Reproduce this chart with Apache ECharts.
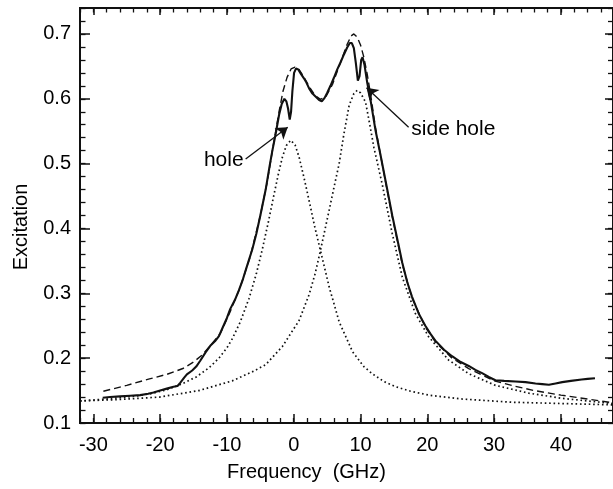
<!DOCTYPE html>
<html><head><meta charset="utf-8">
<script src="https://cdn.jsdelivr.net/npm/echarts@6/dist/echarts.min.js"></script>
<style>html,body{margin:0;padding:0;background:#fff}#c{width:613px;height:489px}</style>
</head><body><div id="c"></div>
<script>
// ---- tick values ----
const xMajorTicks = [-30, -20, -10, 0, 10, 20, 30, 40];
const yMajorTicks = [0.1, 0.2, 0.3, 0.4, 0.5, 0.6, 0.7];

// ---- measured excitation spectrum (solid) ----
const measured = [
  [-28.6,0.139],[-27.5,0.140],[-26,0.141],[-24.5,0.142],[-23,0.143],[-21.8,0.145],[-21,0.147],
  [-20,0.150],[-19,0.153],[-18,0.156],[-17.4,0.157],[-17,0.162],[-16.4,0.170],[-16,0.175],
  [-15.2,0.181],[-14.6,0.187],[-14,0.196],[-13.2,0.209],[-12.5,0.219],[-11.8,0.226],[-11.2,0.234],
  [-10.6,0.248],[-10,0.262],[-9.5,0.276],[-8.8,0.290],[-8.2,0.305],[-7.6,0.322],[-7,0.342],
  [-6.2,0.368],[-5.6,0.392],[-5,0.420],[-4.2,0.460],[-3.6,0.497],[-3.2,0.520],[-2.7,0.546],
  [-2.2,0.575],[-1.8,0.592],[-1.4,0.600],[-1.1,0.596],[-0.85,0.585],[-0.6,0.568],[-0.4,0.580],
  [-0.2,0.612],[0.05,0.640],[0.35,0.647],[0.7,0.645],[1.1,0.638],[1.5,0.632],[1.9,0.625],
  [2.3,0.616],[2.8,0.608],[3.3,0.603],[3.8,0.598],[4.2,0.596],[4.6,0.601],[5.0,0.609],
  [5.5,0.620],[6.0,0.632],[6.5,0.645],[7.0,0.656],[7.5,0.668],[8.0,0.679],[8.4,0.686],
  [8.7,0.686],[9.0,0.678],[9.3,0.655],[9.6,0.628],[9.85,0.635],[10.1,0.660],[10.3,0.664],
  [10.6,0.652],[11.0,0.625],[11.5,0.598],[12.25,0.551],[13,0.513],[14,0.460],[14.75,0.420],
  [15.7,0.374],[16.25,0.347],[17,0.317],[17.7,0.295],[18.7,0.269],[19.7,0.250],[20.5,0.237],
  [21.2,0.227],[22.5,0.213],[23.7,0.203],[25,0.194],[26.2,0.188],[27.2,0.182],[28.2,0.177],
  [29.2,0.171],[30.2,0.166],[31.5,0.165],[33.2,0.164],[34.7,0.163],[36.2,0.161],[37.2,0.160],
  [38.2,0.159],[39.2,0.161],[40.2,0.163],[41.5,0.165],[43.1,0.167],[44,0.168],[45.1,0.169]
];

// ---- total fit (dashed) ----
const fit = [
  [-28.5,0.149],[-25,0.158],[-21.6,0.168],[-19,0.175],[-16.6,0.184],[-15,0.194],[-13.7,0.205],
  [-12.5,0.219],[-11,0.238],[-9.5,0.272],[-8,0.310],[-6.5,0.357],[-5,0.420],[-4,0.470],
  [-3,0.532],[-2.2,0.580],[-1.6,0.612],[-1,0.633],[-0.4,0.646],[0.2,0.649],[0.8,0.645],
  [1.5,0.634],[2.3,0.619],[3.2,0.605],[4.0,0.599],[4.8,0.603],[5.8,0.622],[7.0,0.656],
  [8.0,0.684],[8.6,0.697],[9.0,0.700],[9.5,0.695],[10,0.683],[10.5,0.664],[11,0.638],
  [11.5,0.607],[12.25,0.555],[13,0.513],[14,0.458],[14.75,0.418],[15.7,0.372],[16.25,0.345],
  [17.7,0.293],[19.7,0.248],[21.2,0.225],[23.7,0.200],[26.2,0.184],[28.2,0.174],[30,0.165],
  [33,0.157],[36,0.150],[40,0.143],[44,0.137],[47.8,0.131]
];

// ---- component peak A (dotted, ~0 GHz) ----
const peakA = [
  [-32,0.134],[-28,0.137],[-24.1,0.141],[-21.5,0.145],[-19.1,0.151],[-16.8,0.160],[-14.6,0.171],
  [-12.7,0.185],[-11.2,0.200],[-10,0.216],[-9.2,0.230],[-8,0.256],[-6.7,0.292],[-5.6,0.330],
  [-4.7,0.368],[-3.8,0.410],[-3.0,0.450],[-2.3,0.484],[-1.7,0.510],[-1.1,0.528],[-0.45,0.536],
  [0.2,0.529],[0.8,0.510],[1.5,0.480],[2.3,0.443],[3.2,0.400],[4.0,0.366],[5.3,0.310],
  [6.8,0.256],[8.8,0.210],[10.5,0.187],[11.75,0.176],[13.5,0.164],[15.25,0.156],[17.5,0.149],
  [20.2,0.143],[25.2,0.137],[32.7,0.132],[40.2,0.130],[47.8,0.128]
];

// ---- component peak B (dotted, ~10 GHz) ----
const peakB = [
  [-32,0.134],[-26.6,0.136],[-20.1,0.140],[-14.2,0.150],[-9.2,0.165],[-6,0.180],[-4.2,0.190],
  [-1.7,0.218],[0.8,0.258],[2.3,0.298],[3.2,0.330],[4.0,0.366],[5.3,0.428],[6.0,0.462],
  [6.8,0.500],[7.5,0.545],[8.3,0.590],[9.0,0.608],[9.5,0.613],[10.0,0.609],[10.75,0.595],
  [11.3,0.565],[12.0,0.525],[13.25,0.468],[14.75,0.392],[16.25,0.325],[18.2,0.269],[20.2,0.233],
  [23.2,0.197],[26.2,0.176],[30.2,0.158],[35.2,0.146],[40.2,0.138],[47.8,0.130]
];

// ---- annotations (data coordinates) ----
const annotations = [
  { text: 'hole', at: [-7.5, 0.506], from: [-7.2, 0.507], to: [-0.9, 0.556], side: 'left' },
  { text: 'side hole', at: [17.6, 0.553], from: [17.2, 0.556], to: [10.9, 0.617], side: 'right' }
];

const XMIN = -32, XMAX = 47.8, YMIN = 0.1, YMAX = 0.74;
const FONT = '"Liberation Sans", Arial, Helvetica, sans-serif';
const INK = '#111111';

function xAxis(pos, major, len) {
  const ax = {
    type: 'value', position: pos, min: XMIN, max: XMAX,
    interval: major ? 10 : 2,
    axisLine: { show: true, onZero: false, lineStyle: { color: INK, width: 2 } },
    axisTick: major ? { show: true, inside: true, length: len, customValues: xMajorTicks, lineStyle: { color: INK, width: 1.5 } }
                    : { show: true, inside: true, length: len, lineStyle: { color: INK, width: 1.3 } },
    axisLabel: (major && pos === 'bottom')
      ? { show: true, customValues: xMajorTicks, margin: 12, fontSize: 20, color: '#000', fontFamily: FONT }
      : { show: false },
    splitLine: { show: false }
  };
  return ax;
}
function yAxis(pos, major, len) {
  const ax = {
    type: 'value', position: pos, min: YMIN, max: YMAX,
    interval: major ? 0.1 : 0.02,
    axisLine: { show: true, onZero: false, lineStyle: { color: INK, width: 2 } },
    axisTick: major ? { show: true, inside: true, length: len, customValues: yMajorTicks, lineStyle: { color: INK, width: 1.5 } }
                    : { show: true, inside: true, length: len, lineStyle: { color: INK, width: 1.3 } },
    axisLabel: (major && pos === 'left')
      ? { show: true, customValues: yMajorTicks, margin: 9, fontSize: 20, color: '#000', fontFamily: FONT }
      : { show: false },
    splitLine: { show: false }
  };
  return ax;
}

const chart = echarts.init(document.getElementById('c'));
chart.setOption({
  animation: false,
  grid: { left: 80, right: 0, top: 8, bottom: 66, containLabel: false },
  xAxis: [xAxis('bottom', true, 9), xAxis('bottom', false, 5), xAxis('top', true, 7), xAxis('top', false, 4.5)],
  yAxis: [yAxis('left', true, 10), yAxis('left', false, 5.5), yAxis('right', true, 8), yAxis('right', false, 5)],
  graphic: [
    { type: 'text', left: 'center', top: 462, style: { text: 'Frequency  (GHz)', fontSize: 20, fill: '#000', font: '20px ' + FONT } },
    { type: 'text', x: 11, y: 227, rotation: Math.PI / 2,
      style: { text: 'Excitation', fill: '#000', font: '20px ' + FONT, align: 'center', verticalAlign: 'top' } }
  ],
  series: [
    { type: 'line', data: peakA, symbol: 'none', xAxisIndex: 1, yAxisIndex: 1,
      lineStyle: { color: INK, width: 1.7, type: [1.6, 2.8], cap: 'butt' } },
    { type: 'line', data: peakB, symbol: 'none', xAxisIndex: 2, yAxisIndex: 2,
      lineStyle: { color: INK, width: 1.7, type: [1.6, 2.8], cap: 'butt' } },
    { type: 'line', data: fit, symbol: 'none', xAxisIndex: 3, yAxisIndex: 3,
      lineStyle: { color: INK, width: 1.4, type: [7, 4] } },
    { type: 'line', data: measured, symbol: 'none', xAxisIndex: 0, yAxisIndex: 0,
      lineStyle: { color: INK, width: 2.1 },
      markLine: {
        silent: true, symbol: ['none', 'arrow'], symbolSize: 11,
        lineStyle: { color: INK, width: 1.3, type: 'solid' }, label: { show: false },
        data: annotations.map(a => [{ coord: a.from }, { coord: a.to }])
      },
      markPoint: {
        silent: true, symbol: 'circle', symbolSize: 0,
        data: annotations.map(a => ({
          coord: a.at,
          label: { show: true, formatter: a.text, position: a.side, distance: 0,
                   fontSize: 21, color: '#000', fontFamily: FONT }
        }))
      }
    }
  ]
});
</script>
</body></html>
